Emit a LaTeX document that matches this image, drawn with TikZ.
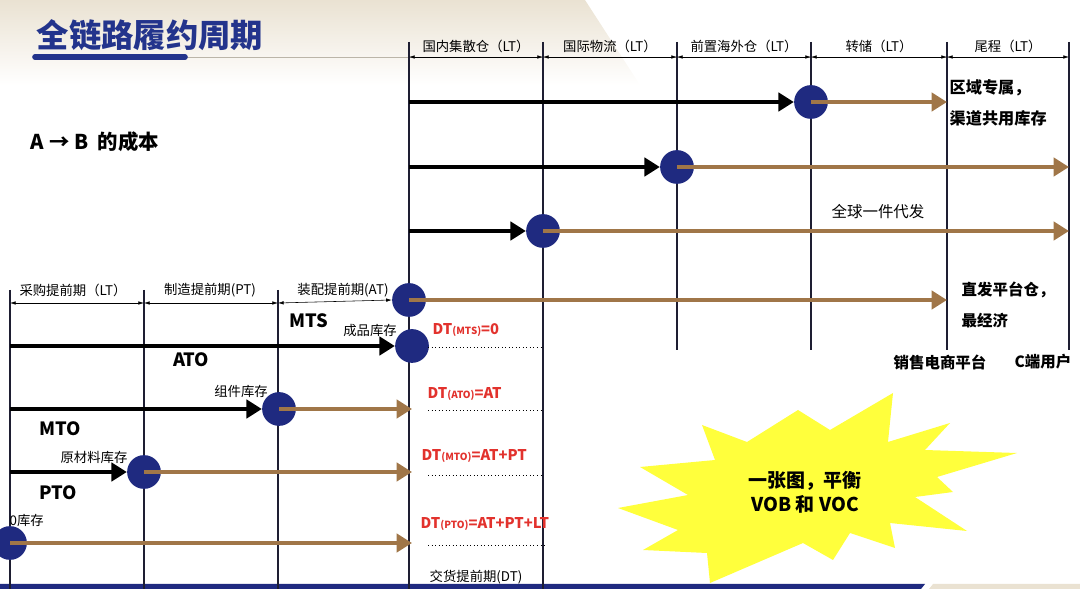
\documentclass[tikz,border=0pt]{standalone}
\usepackage{fontspec}
\setmainfont{Noto Sans CJK SC}
\usetikzlibrary{arrows.meta,calc}

\definecolor{navy}{RGB}{31,42,128}
\definecolor{tan}{RGB}{160,118,72}
\definecolor{dtred}{RGB}{226,50,45}
\definecolor{titleblue}{RGB}{35,52,140}
\definecolor{burst}{RGB}{255,255,60}
\definecolor{beige}{RGB}{234,226,210}
\definecolor{rule}{RGB}{30,30,50}

\tikzset{
  dot/.style={circle, fill=navy, minimum size=24pt, inner sep=0pt},
  fwd/.style={line width=3pt, -{Triangle[length=11pt,width=13pt]}},
  blk/.style={fwd, draw=black, fill=black},
  brn/.style={fwd, draw=tan, fill=tan},
  span/.style={{Latex[length=4pt,width=2.5pt]}-{Latex[length=4pt,width=2.5pt]}, line width=0.4pt},
  hd/.style={font=\fontsize{9.5}{11}\selectfont, inner sep=1pt},
  big/.style={font=\fontsize{13}{15}\selectfont\bfseries, inner sep=1pt},
  note/.style={font=\fontsize{11.5}{13}\selectfont\bfseries, inner sep=1pt, anchor=west},
  dt/.style={font=\fontsize{10.5}{12}\selectfont\bfseries, text=dtred, inner sep=1pt, anchor=west}
}
\newcommand{\dtsub}[1]{{\fontsize{7}{8}\selectfont(#1)}}

\begin{document}
\begin{tikzpicture}[x=0.025cm, y=-0.025cm]
  \useasboundingbox (0,0) rectangle (1080,589);

  % background
  \shade[top color=beige, bottom color=white] (0,0) -- (585,0) -- (640,85) -- (0,85) -- cycle;
  \fill[navy] (0,584) -- (925,584) -- (921,589) -- (0,589) -- cycle;
  \fill[beige] (933,584) -- (1080,584) -- (1080,589) -- (929,589) -- cycle;

  % title
  \node[font=\fontsize{23}{26}\selectfont\bfseries, text=titleblue] (title) at (150,35) {全链路履约周期};
  \draw[beige!80!black, line width=0.5pt] (185,57) -- (1065,57);
  \draw[titleblue, line width=4pt, line cap=round] (35,57) -- (185,57);

  % timeline grid
  \foreach \x/\t in {409/42,543/42,677/42,811/42,947/42,1069/42,10/290,144/290,278/290}
    \coordinate (t\x) at (\x,\t);
  \foreach \x in {409,543}
    \draw[rule, line width=1pt] (t\x) -- (\x,589);
  \foreach \x in {677,811,947,1069}
    \draw[rule, line width=1pt] (t\x) -- (\x,350);
  \foreach \x in {10,144,278}
    \draw[rule, line width=1pt] (t\x) -- (\x,589);

  % spans, upper
  \foreach \a/\b/\lbl in {409/543/国内集散仓（LT）,543/677/国际物流（LT）,677/811/前置海外仓（LT）,811/947/转储（LT）,947/1069/尾程（LT）}{
    \coordinate (sa\a) at (\a,57);
    \coordinate (sb\a) at (\b,57);
    \draw[span] (sa\a) -- (sb\a);
    \node[hd, above=2pt] at ($(sa\a)!0.5!(sb\a)$) {\lbl};
  }

  % the dots
  \node[dot] (dotA) at (811,102) {};
  \node[dot] (dotB) at (677,167) {};
  \node[dot] (dotC) at (543,231) {};
  \node[dot] (dotD) at (409,300) {};
  \node[dot] (mts) at (412,346) {};
  \node[dot] (ato) at (279,409) {};
  \node[dot] (mto) at (144,472) {};
  \node[dot] (pto) at (10,543) {};

  % spans, lower
  \coordinate (la) at (10,303);
  \coordinate (lb) at (144,303);
  \coordinate (lc) at (278,303);
  \draw[span] (la) -- (lb);
  \draw[span] (lb) -- (lc);
  \draw[span] (lc) -- (dotD.west);
  \node[hd] at (73,290) {采购提前期（LT）};
  \node[hd] at (210,290) {制造提前期(PT)};
  \node[hd] at (343,290) {装配提前期(AT)};

  % upper flows
  \coordinate (sA) at (409,102);
  \coordinate (sB) at (409,167);
  \coordinate (sC) at (409,231);
  \coordinate (eA) at (947,102);
  \coordinate (eB) at (1069,167);
  \coordinate (eC) at (1069,231);
  \coordinate (eD) at (947,300);
  \draw[blk] (sA) -- (dotA.west);
  \draw[blk] (sB) -- (dotB.west);
  \draw[blk] (sC) -- (dotC.west);
  \draw[brn] (dotA.center) -- (eA);
  \draw[brn] (dotB.center) -- (eB);
  \draw[brn] (dotC.center) -- (eC);
  \draw[brn] (dotD.center) -- (eD);

  % lower flows
  \coordinate (sMTS) at (10,346);
  \coordinate (sATO) at (10,409);
  \coordinate (sMTO) at (10,472);
  \draw[blk] (sMTS) -- (mts.west);
  \draw[blk] (sATO) -- (ato.west);
  \draw[blk] (sMTO) -- (mto.west);
  \coordinate (eATO) at (412,409);
  \coordinate (eMTO) at (412,472);
  \coordinate (ePTO) at (412,543);
  \draw[brn] (ato.center) -- (eATO);
  \draw[brn] (mto.center) -- (eMTO);
  \draw[brn] (pto.center) -- (ePTO);

  % delivery lead time
  \foreach \y/\e in {347/541,410/541,475/541,545/547}
    \draw[dotted, line width=0.5pt] (428,\y) -- (\e,\y);
  \node[dt] at (431,330) {DT\dtsub{MTS}=0};
  \node[dt] at (426,394) {DT\dtsub{ATO}=AT};
  \node[dt] at (420,456) {DT\dtsub{MTO}=AT+PT};
  \node[dt] at (419,524) {DT\dtsub{PTO}=AT+PT+LT};
  \node[hd] at (476,577) {交货提前期(DT)};

  % labels
  \node[font=\fontsize{14.5}{16}\selectfont\bfseries, anchor=west] at (26,142) {A → B\ \ 的成本};
  \node[note] at (948,88) {区域专属，};
  \node[note] at (948,118) {渠道共用库存};
  \node[font=\fontsize{11}{13}\selectfont] at (878,212) {全球一件代发};
  \node[note, font=\fontsize{11}{13}\selectfont\bfseries] at (960,290) {直发平台仓，};
  \node[note, font=\fontsize{11}{13}\selectfont\bfseries] at (960,321) {最经济};
  \node[font=\fontsize{11}{13}\selectfont\bfseries] at (940,362) {销售电商平台};
  \node[font=\fontsize{11}{13}\selectfont\bfseries] at (1043,362) {C端用户};

  \node[big] at (309,321) {MTS};
  \node[hd] at (370,330) {成品库存};
  \node[big] at (191,360) {ATO};
  \node[hd] at (241,391) {组件库存};
  \node[big] at (60,429) {MTO};
  \node[hd] at (94,457) {原材料库存};
  \node[big] at (58,493) {PTO};
  \node[hd, anchor=west] at (8,520) {0库存};

  % starburst
  \fill[burst] (798,410) -- (830,430) -- (893,393) -- (888,442) -- (950,423) -- (925,450)
    -- (1017,453) -- (937,477) -- (953,492) -- (915,497) -- (967,531) -- (890,523)
    -- (895,548) -- (850,533) -- (833,560) -- (803,543) -- (710,583) -- (707,553)
    -- (643,550) -- (678,530) -- (618,508) -- (688,495) -- (640,467) -- (715,460)
    -- (702,425) -- (747,442) -- cycle;
  \node[big, align=center, font=\fontsize{13.5}{17}\selectfont\bfseries] (burstText) at (805,492) {一张图，平衡\\VOB 和 VOC};
\end{tikzpicture}
\end{document}
